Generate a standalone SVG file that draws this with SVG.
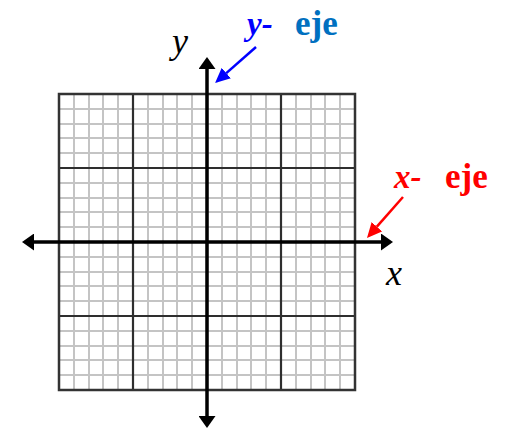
<svg xmlns="http://www.w3.org/2000/svg" width="506" height="430" viewBox="0 0 506 430">
<style>
.minor{fill:none;stroke:#c4c4c4;stroke-width:2}
.major{fill:none;stroke:#2e2e2e;stroke-width:2.2}
.border{fill:none;stroke:#333333;stroke-width:2.5}
.axis{fill:none;stroke:#000000;stroke-width:3.5}
.lbl{font-family:"Liberation Serif","Times New Roman",serif;font-style:italic;font-size:36px;fill:#000000}
.tag{font-family:"Liberation Serif","Times New Roman",serif;font-weight:bold;font-size:33px}
.big{font-size:35px}
.ptr{fill:none;stroke-width:2.5}
</style>
<defs>
<marker id="ah" viewBox="0 0 12 17" refX="0" refY="8.5" markerWidth="12" markerHeight="17" markerUnits="userSpaceOnUse" orient="auto-start-reverse">
<polygon points="0,0 12,8.5 0,17" fill="#000000"/>
</marker>
<marker id="ahBlue" viewBox="0 0 15 14" refX="0" refY="7" markerWidth="15" markerHeight="14" markerUnits="userSpaceOnUse" orient="auto">
<polygon points="0,0 15,7 0,14" fill="#0000ff"/>
</marker>
<marker id="ahRed" viewBox="0 0 15 14" refX="0" refY="7" markerWidth="15" markerHeight="14" markerUnits="userSpaceOnUse" orient="auto">
<polygon points="0,0 15,7 0,14" fill="#ff0000"/>
</marker>
</defs>
<rect width="506" height="430" fill="#ffffff"/>
<g id="grid">
<path class="minor" d="M74 94V390M89 94V390M103 94V390M118 94V390M148 94V390M163 94V390M177 94V390M192 94V390M222 94V390M237 94V390M251 94V390M266 94V390M296 94V390M311 94V390M325 94V390M340 94V390M59 109H355M59 124H355M59 138H355M59 153H355M59 183H355M59 198H355M59 212H355M59 227H355M59 257H355M59 272H355M59 286H355M59 301H355M59 331H355M59 346H355M59 360H355M59 375H355"/>
<path class="major" d="M133 94V390M207 94V390M281 94V390M59 168H355M59 242H355M59 316H355"/>
<rect class="border" x="59" y="94" width="296" height="296"/>
</g>
<g id="connectors">
<line id="x-axis" class="axis" x1="34" y1="242" x2="381" y2="242" marker-start="url(#ah)" marker-end="url(#ah)"/>
<line id="y-axis" class="axis" x1="207" y1="416" x2="207" y2="69" marker-start="url(#ah)" marker-end="url(#ah)"/>
<line id="y-pointer" class="ptr" stroke="#0000ff" x1="256" y1="47" x2="226.3" y2="73.1" marker-end="url(#ahBlue)"/>
<line id="x-pointer" class="ptr" stroke="#ff0000" x1="403" y1="197" x2="376.9" y2="226.7" marker-end="url(#ahRed)"/>
</g>
<g id="label-y"><text class="lbl" x="172" y="53">y</text></g>
<g id="label-x"><text class="lbl" x="386" y="285">x</text></g>
<g id="tag-y">
<text class="tag" x="247" y="35" fill="#0000ff" font-style="italic">y-</text>
<text class="tag big" x="295" y="35" fill="#0070c0">eje</text>
</g>
<g id="tag-x">
<text class="tag" x="394" y="188" fill="#ff0000" font-style="italic">x-</text>
<text class="tag big" x="445" y="188" fill="#ff0000">eje</text>
</g>
</svg>
